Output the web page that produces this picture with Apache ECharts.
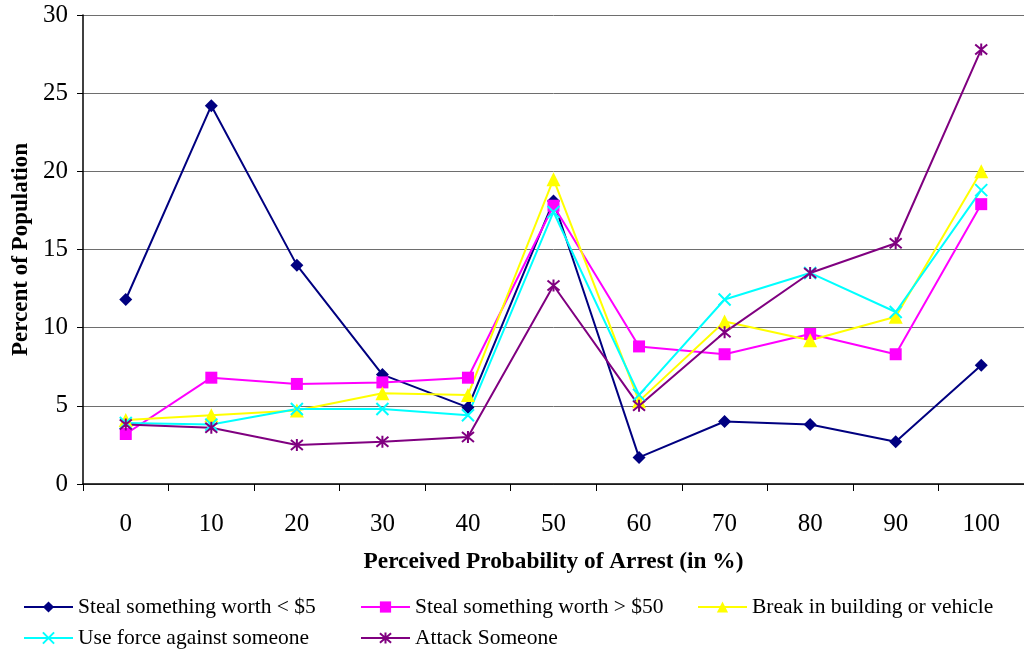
<!DOCTYPE html>
<html>
<head>
<meta charset="utf-8">
<script src="https://cdn.jsdelivr.net/npm/echarts@6/dist/echarts.min.js"></script>
<style>
  html, body { margin: 0; padding: 0; background: #fff; }
  #chart { width: 1024px; height: 655px; }
</style>
</head>
<body>
<div id="chart"></div>
<script>
// Perceived probability of arrest (x) vs. percent of population (y)
const categories = ['0', '10', '20', '30', '40', '50', '60', '70', '80', '90', '100'];

const stealUnder5   = [11.8, 24.2, 14.0, 7.0, 4.9, 18.1, 1.7, 4.0, 3.8, 2.7, 7.6];
const stealOver50   = [3.2, 6.8, 6.4, 6.5, 6.8, 17.8, 8.8, 8.3, 9.6, 8.3, 17.9];
const breakIn       = [4.1, 4.4, 4.7, 5.8, 5.7, 19.5, 5.3, 10.4, 9.2, 10.7, 20.0];
const useForce      = [3.9, 3.8, 4.8, 4.8, 4.4, 17.4, 5.7, 11.8, 13.5, 11.0, 18.8];
const attackSomeone = [3.8, 3.6, 2.5, 2.7, 3.0, 12.7, 5.0, 9.7, 13.5, 15.4, 27.8];

const seriesNames = [
  'Steal something worth < $5',
  'Steal something worth > $50',
  'Break in building or vehicle',
  'Use force against someone',
  'Attack Someone'
];

const FONT = '"Liberation Serif", "Times New Roman", serif';

const crossPath = 'path://M0,0L10,10M10,0L0,10';
const starPath = 'path://M0,0L10,10M10,0L0,10M5,-1L5,11';

function lineSeries(name, data, color, symbol, size, stroked) {
  return {
    name: name,
    type: 'line',
    data: data,
    symbol: symbol,
    symbolSize: size,
    showAllSymbol: true,
    lineStyle: { color: color, width: 2 },
    itemStyle: stroked
      ? { color: color, borderColor: color, borderWidth: 2 }
      : { color: color, borderWidth: 0 },
    emphasis: { disabled: true },
    animation: false
  };
}

const legendText = { fontFamily: FONT, fontSize: 21.5, color: '#000' };
function legendBlock(left, names) {
  return {
    orient: 'vertical',
    left: left,
    top: 596,
    padding: 0,
    itemWidth: 49,
    itemHeight: 14,
    itemGap: 9,
    textStyle: legendText,
    data: names,
    selectedMode: false
  };
}

const chart = echarts.init(document.getElementById('chart'), null, { renderer: 'canvas' });
chart.setOption({
  backgroundColor: '#fff',
  animation: false,
  grid: { left: 83, top: 15, width: 946.6, height: 469 },
  legend: [
    legendBlock(23, [seriesNames[0], seriesNames[3]]),
    legendBlock(360, [seriesNames[1], seriesNames[4]]),
    legendBlock(697, [seriesNames[2]])
  ],
  xAxis: {
    type: 'category',
    data: categories,
    boundaryGap: true,
    name: 'Perceived Probability of Arrest (in %)',
    nameLocation: 'middle',
    nameGap: 66,
    nameTextStyle: { fontFamily: FONT, fontSize: 23.3, fontWeight: 'bold', color: '#000' },
    axisLine: { lineStyle: { color: '#000', width: 1.5 } },
    axisTick: { show: true, inside: false, length: 7, alignWithLabel: false, lineStyle: { color: '#000' } },
    axisLabel: { fontFamily: FONT, fontSize: 25, color: '#000', margin: 28 },
    splitLine: { show: false }
  },
  yAxis: {
    type: 'value',
    min: 0,
    max: 30,
    interval: 5,
    name: 'Percent of Population',
    nameLocation: 'middle',
    nameRotate: 90,
    nameGap: 43,
    nameTextStyle: { fontFamily: FONT, fontSize: 23, fontWeight: 'bold', color: '#000' },
    axisLine: { show: true, lineStyle: { color: '#000', width: 1.5 } },
    axisTick: { show: true, inside: false, length: 6, lineStyle: { color: '#000' } },
    axisLabel: { fontFamily: FONT, fontSize: 25, color: '#000', margin: 15 },
    splitLine: { show: true, lineStyle: { color: '#6e6e6e', width: 1 } }
  },
  series: [
    lineSeries(seriesNames[0], stealUnder5, '#000080', 'diamond', 13, false),
    lineSeries(seriesNames[1], stealOver50, '#ff00ff', 'rect', 12, false),
    lineSeries(seriesNames[2], breakIn, '#ffff00', 'triangle', 14, false),
    lineSeries(seriesNames[3], useForce, '#00ffff', crossPath, 12, true),
    lineSeries(seriesNames[4], attackSomeone, '#800080', starPath, 12, true)
  ]
});
</script>
</body>
</html>
